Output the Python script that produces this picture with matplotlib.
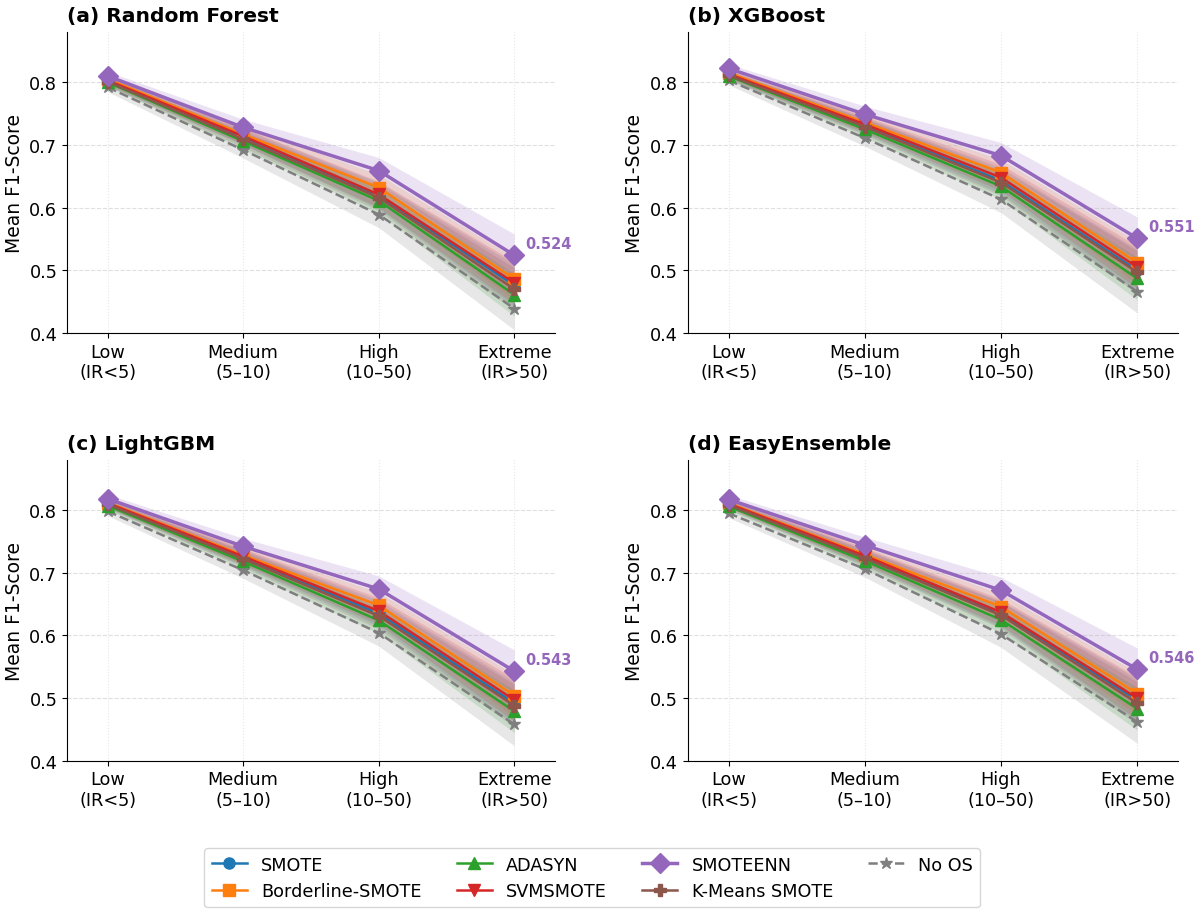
import matplotlib.pyplot as plt

plt.rcParams['font.family'] = ['DejaVu Sans']

levels = ["Low\n(IR<5)", "Medium\n(5–10)", "High\n(10–50)", "Extreme\n(IR>50)"]
methods = ["SMOTE", "Borderline-SMOTE", "ADASYN", "SVMSMOTE", "SMOTEENN", "K-Means SMOTE", "No OS"]
colors = ["#1f77b4", "#ff7f0e", "#2ca02c", "#d62728", "#9467bd", "#8c564b", "#7f7f7f"]
markers = ["o", "s", "^", "v", "D", "P", "*"]

titles = ["(a) Random Forest", "(b) XGBoost", "(c) LightGBM", "(d) EasyEnsemble"]

# mean F1 per method, order as in methods
rf = [
    [0.802, 0.713, 0.619, 0.476],
    [0.805, 0.717, 0.632, 0.486],
    [0.800, 0.706, 0.611, 0.461],
    [0.803, 0.714, 0.621, 0.480],
    [0.810, 0.728, 0.659, 0.524],
    [0.801, 0.709, 0.616, 0.470],
    [0.792, 0.692, 0.589, 0.439],
]
xgb = [
    [0.812, 0.731, 0.643, 0.500],
    [0.815, 0.736, 0.656, 0.512],
    [0.810, 0.725, 0.634, 0.487],
    [0.813, 0.733, 0.648, 0.505],
    [0.822, 0.749, 0.683, 0.551],
    [0.811, 0.729, 0.640, 0.497],
    [0.803, 0.711, 0.613, 0.466],
]
lgbm = [
    [0.810, 0.724, 0.635, 0.492],
    [0.812, 0.728, 0.648, 0.504],
    [0.807, 0.718, 0.624, 0.479],
    [0.811, 0.726, 0.639, 0.497],
    [0.818, 0.742, 0.674, 0.543],
    [0.809, 0.722, 0.631, 0.488],
    [0.798, 0.704, 0.604, 0.458],
]
easy = [
    [0.809, 0.725, 0.634, 0.497],
    [0.811, 0.729, 0.646, 0.507],
    [0.806, 0.719, 0.625, 0.483],
    [0.810, 0.727, 0.637, 0.500],
    [0.817, 0.744, 0.672, 0.546],
    [0.808, 0.723, 0.632, 0.492],
    [0.795, 0.706, 0.602, 0.462],
]
# spread of the shaded bands per level
spread = [0.007, 0.013, 0.021, 0.034]

panels = [rf, xgb, lgbm, easy]

fig = plt.figure(figsize=(11.96, 9.2), dpi=100)
pos = [
    [0.056, 0.637, 0.408, 0.327],
    [0.575, 0.637, 0.410, 0.327],
    [0.056, 0.172, 0.408, 0.327],
    [0.575, 0.172, 0.410, 0.327],
]
x = list(range(len(levels)))

handles = []
for p, data in enumerate(panels):
    ax = fig.add_axes(pos[p])
    for i, m in enumerate(methods):
        y = data[i]
        lo = [v - s for v, s in zip(y, spread)]
        hi = [v + s for v, s in zip(y, spread)]
        ax.fill_between(x, lo, hi, color=colors[i], alpha=0.18, linewidth=0)
        if m == "SMOTEENN":
            ln, = ax.plot(x, y, color=colors[i], marker=markers[i], markersize=10,
                          linewidth=2.5, label=m, zorder=5)
        elif m == "No OS":
            ln, = ax.plot(x, y, color=colors[i], marker=markers[i], markersize=9,
                          linewidth=1.8, linestyle="--", label=m, zorder=3)
        else:
            ln, = ax.plot(x, y, color=colors[i], marker=markers[i], markersize=8,
                          linewidth=1.8, label=m, zorder=4)
        if p == 0:
            handles.append(ln)
    best = data[4][-1]
    ax.annotate(f"{best:.3f}", (3, best), xytext=(8, 5), textcoords="offset points",
                color=colors[4], fontweight="bold", fontsize=10.5)
    ax.set_xlim(-0.3, 3.3)
    ax.set_ylim(0.4, 0.88)
    ax.set_yticks([0.4, 0.5, 0.6, 0.7, 0.8])
    ax.set_xticks(x)
    ax.set_xticklabels(levels, fontsize=12.7)
    ax.tick_params(axis="y", labelsize=12.7)
    ax.set_ylabel("Mean F1-Score", fontsize=13.5)
    ax.set_title(titles[p], loc="left", fontsize=14.6, fontweight="bold", pad=8)
    ax.grid(axis="y", linestyle="--", alpha=0.4)
    ax.grid(axis="x", linestyle=":", alpha=0.3)
    ax.spines["top"].set_visible(False)
    ax.spines["right"].set_visible(False)

fig.legend(handles=handles, loc="lower center", bbox_to_anchor=(0.495, 0.003),
           ncol=4, fontsize=12.7, frameon=True)

plt.savefig("out.png", dpi=100)
